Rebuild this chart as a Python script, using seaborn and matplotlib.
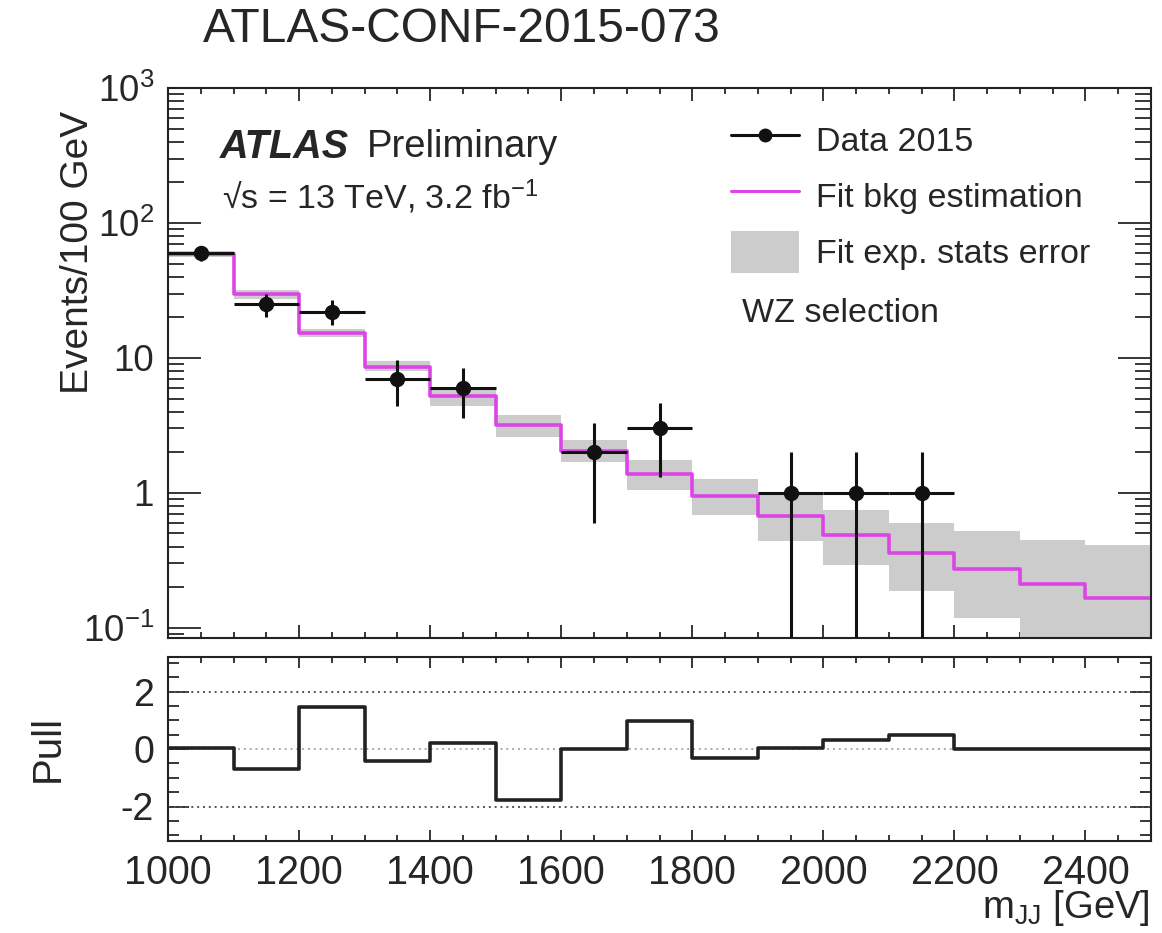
import matplotlib as mpl
mpl.use('Agg')
import matplotlib.pyplot as plt
from matplotlib.lines import Line2D
from matplotlib.patches import Patch
from matplotlib.ticker import MultipleLocator, LogLocator, FixedLocator, NullFormatter
import numpy as np
import pandas as pd
import seaborn as sns

# bins of m_JJ (GeV)
edges = [1000, 1100, 1200, 1300, 1400, 1500, 1600, 1700, 1800, 1900, 2000, 2100, 2200, 2300, 2400, 2500]
# fit background estimate per bin
bkg = [59, 29.8, 15.3, 8.6, 5.2, 3.2, 2.03, 1.37, 0.95, 0.67, 0.49, 0.357, 0.272, 0.212, 0.166]
# fit exp. stats error band
band_lo = [56, 27.2, 14.3, 8.0, 4.4, 2.6, 1.7, 1.05, 0.68, 0.44, 0.29, 0.186, 0.118, 0.05, 0.05]
band_hi = [62, 31.9, 16.4, 9.5, 6.0, 3.8, 2.45, 1.76, 1.26, 1.0, 0.75, 0.60, 0.52, 0.45, 0.41]
# data 2015
data_x = [1050, 1150, 1250, 1350, 1450, 1650, 1750, 1950, 2050, 2150]
data_y = [60, 25, 22, 7, 6, 2, 3, 1, 1, 1]
data_lo = [52, 20.2, 17.4, 4.4, 3.6, 0.6, 1.3, 0, 0, 0]
data_hi = [68, 30, 27, 9.6, 8.4, 3.3, 4.65, 2, 2, 2]
# pull per bin
pull = [0.05, -0.69, 1.45, -0.40, 0.2, -1.77, 0.0, 0.99, -0.31, 0.03, 0.3, 0.49, 0.0, 0.0, 0.0]

sns.set_style('ticks')
plt.rcParams['font.family'] = ['Liberation Sans', 'DejaVu Sans']
plt.rcParams['mathtext.fontset'] = 'custom'
plt.rcParams['mathtext.rm'] = 'Liberation Sans'
plt.rcParams['mathtext.it'] = 'Liberation Sans:italic'
plt.rcParams['mathtext.bf'] = 'Liberation Sans:bold'
plt.rcParams['axes.linewidth'] = 1.5
plt.rcParams['axes.edgecolor'] = '#222222'
plt.rcParams['axes.unicode_minus'] = False

W, H = 1162, 933
fig = plt.figure(figsize=(W / 100, H / 100), dpi=100)
ax = fig.add_axes([168 / W, 1 - 638 / H, (1151 - 168) / W, (638 - 88) / H])
axp = fig.add_axes([168 / W, 1 - 841 / H, (1151 - 168) / W, (841 - 657) / H])

magenta = '#dd44e6'
band_col = '#cccccc'

def ext(v):
    return list(v) + [v[-1]]

hist = pd.DataFrame({'edge': edges, 'bkg': ext(bkg), 'lo': ext(band_lo),
                     'hi': ext(band_hi), 'pull': ext(pull)})
dat = pd.DataFrame({'x': data_x, 'y': data_y, 'lo': data_lo, 'hi': data_hi})

ax.set_yscale('log')
ax.fill_between(hist['edge'], hist['lo'], hist['hi'], step='post', color=band_col, lw=0, zorder=1)
sns.lineplot(data=hist, x='edge', y='bkg', drawstyle='steps-post', color=magenta, lw=2.6, ax=ax, zorder=2)
ax.errorbar(dat['x'], dat['y'], xerr=50, yerr=[dat['y'] - dat['lo'], dat['hi'] - dat['y']],
            fmt='none', ecolor='#111111', elinewidth=2.2, capsize=0, zorder=3)
sns.scatterplot(data=dat, x='x', y='y', color='#111111', s=105, edgecolor='#111111', ax=ax, zorder=4)

ax.set_xlim(1000, 2500)
ax.set_ylim(0.084, 1000)
ax.set_xlabel('')
ax.set_ylabel('')
ax.xaxis.set_major_locator(MultipleLocator(200))
ax.xaxis.set_minor_locator(MultipleLocator(50))
ax.yaxis.set_major_locator(FixedLocator([0.1, 1, 10, 100, 1000]))
ax.set_yticklabels(['10$^{-1}$', '1', '10', '10$^{2}$', '10$^{3}$'])
ax.yaxis.set_minor_locator(LogLocator(base=10, subs=np.arange(2, 10)))
ax.yaxis.set_minor_formatter(NullFormatter())
ax.tick_params(axis='x', which='major', direction='in', length=9.5, width=1.3, top=True, bottom=True, labelbottom=False)
ax.tick_params(axis='x', which='minor', direction='in', length=4.5, width=1.3, top=True, bottom=True)
ax.tick_params(axis='y', which='major', direction='in', length=24, width=1.3, left=True, right=True, labelsize=26.5, pad=10)
ax.tick_params(axis='y', which='minor', direction='in', length=11.5, width=1.3, left=True, right=True)

# pull panel
for yv, c in [(2, '#555555'), (-2, '#555555'), (0, '#aaaaaa')]:
    axp.axhline(yv, ls=(0, (1, 2)), color=c, lw=1.4, zorder=1)
sns.lineplot(data=hist, x='edge', y='pull', drawstyle='steps-post', color='#222222', lw=2.6, ax=axp, zorder=2)
axp.set_xlim(1000, 2500)
axp.set_ylim(-3.2, 3.2)
axp.set_xlabel('')
axp.set_ylabel('')
axp.xaxis.set_major_locator(MultipleLocator(200))
axp.xaxis.set_minor_locator(MultipleLocator(50))
axp.yaxis.set_major_locator(FixedLocator([-2, 0, 2]))
axp.yaxis.set_minor_locator(MultipleLocator(0.5))
axp.tick_params(axis='x', which='major', direction='in', length=8, width=1.3, top=True, bottom=True, labelsize=28.5, pad=9)
axp.tick_params(axis='x', which='minor', direction='in', length=4, width=1.3, top=True, bottom=True)
axp.tick_params(axis='y', which='major', direction='in', length=15, width=1.3, left=True, right=True, labelsize=27, pad=10)
axp.tick_params(axis='y', which='minor', direction='in', length=8, width=1.3, left=True, right=True)

# legend
handles = [Line2D([], [], color='#111111', lw=2.2, marker='o', markersize=9),
           Line2D([], [], color=magenta, lw=2.2),
           Patch(facecolor=band_col, edgecolor='none')]
labels = ['Data 2015', 'Fit bkg estimation', 'Fit exp. stats error']
ax.legend(handles, labels, loc='upper left', bbox_to_anchor=(731 / W, 1 - 119 / H),
          bbox_transform=fig.transFigure, frameon=False, fontsize=24.5, handlelength=2.0,
          handletextpad=0.5, labelspacing=0.43, handleheight=1.5, borderpad=0, borderaxespad=0)

fig.text(742 / W, 1 - 313 / H, 'WZ selection', fontsize=24.5, va='center')
fig.text(220 / W, 1 - 147 / H, 'ATLAS', fontsize=28.5, weight='bold', style='italic', va='center')
fig.text(367 / W, 1 - 147 / H, 'Preliminary', fontsize=27.5, va='center')
fig.text(222 / W, 1 - 197 / H, '\u221as = 13 TeV, 3.2 fb$^{-1}$', fontsize=24.5, va='center')

fig.text(462 / W, 1 - 30 / H, 'ATLAS-CONF-2015-073', fontsize=34.5, ha='center', va='center')
fig.text(78 / W, 1 - 252 / H, 'Events/100 GeV', fontsize=28, rotation=90, ha='center', va='center')
fig.text(48 / W, 1 - 748 / H, 'Pull', fontsize=29, rotation=90, ha='center', va='center')
fig.text(1150 / W, 1 - 908 / H, 'm$_{\\rm JJ}$ [GeV]', fontsize=27.5, ha='right', va='center')

plt.savefig('out.png', dpi=100)
